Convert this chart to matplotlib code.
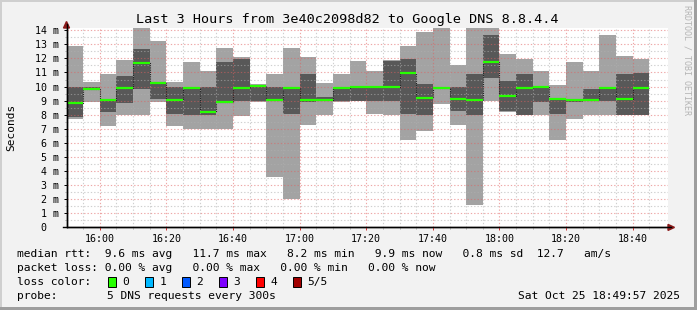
import matplotlib
matplotlib.use("Agg")
import matplotlib.pyplot as plt
import numpy as np
import pandas as pd
from matplotlib.patches import Rectangle, Polygon
from matplotlib.lines import Line2D

# 5-minute steps, 5 DNS pings each, sorted values in ms
step_start = pd.date_range("2025-10-25 15:50", periods=35, freq="5min")
rtt_min = [7.72, 8.87, 7.22, 7.95, 8.00, 8.87, 7.20, 7.00, 7.00, 7.00,
           7.90, 8.88, 3.60, 2.05, 7.27, 8.00, 8.87, 8.95, 8.05, 8.00,
           6.20, 6.87, 8.75, 7.27, 1.60, 8.97, 8.20, 7.98, 8.00, 6.20,
           7.72, 8.00, 8.00, 7.98, 7.98]
rtt_p2 = [7.85, 9.75, 8.20, 8.85, 9.85, 9.12, 8.05, 8.00, 8.00, 8.85,
          8.97, 9.00, 9.02, 8.05, 8.87, 9.00, 8.95, 9.00, 9.00, 9.00,
          8.05, 8.00, 9.80, 8.30, 8.00, 10.63, 8.26, 8.00, 8.87, 8.05,
          8.90, 8.97, 9.00, 8.00, 8.00]
rtt_median = [8.85, 9.85, 9.07, 9.87, 11.70, 10.28, 9.08, 9.87, 8.20, 8.87,
              9.87, 10.03, 9.08, 9.87, 9.08, 9.03, 9.87, 10.00, 10.00, 10.00,
              10.93, 9.20, 9.87, 9.14, 9.03, 11.72, 9.36, 9.87, 10.00, 9.10,
              9.02, 9.02, 9.87, 9.10, 9.87]
rtt_p4 = [10.00, 9.95, 9.12, 10.75, 12.67, 10.33, 10.00, 9.97, 10.00, 11.75,
          11.95, 10.08, 10.00, 9.92, 10.90, 9.28, 9.90, 10.05, 10.05, 11.80,
          11.95, 10.18, 9.90, 9.99, 10.90, 13.67, 10.40, 10.90, 10.07, 9.15,
          9.10, 9.85, 9.92, 10.90, 10.97]
rtt_max = [12.90, 10.30, 10.90, 11.90, 14.30, 13.25, 10.32, 11.75, 11.10, 12.75,
           12.10, 10.15, 10.90, 12.75, 12.10, 10.25, 10.90, 11.80, 11.10, 11.90,
           12.90, 13.90, 14.30, 11.55, 14.30, 14.30, 12.32, 11.97, 11.10, 10.10,
           11.77, 11.10, 13.67, 12.15, 11.97]

time_labels = ["16:00", "16:20", "16:40", "17:00", "17:20", "17:40",
               "18:00", "18:20", "18:40"]
y_labels = ["0  "] + [f"{v} m" for v in range(1, 15)]

loss_names = ["0", "1", "2", "3", "4", "5/5"]
loss_colors = ["#26ff00", "#00b8ff", "#0059ff", "#7e00ff", "#ff0000", "#a10000"]

W, H = 697, 310
BACK = "#f2f2f2"
LIGHT = "#a3a3a3"
DARK = "#585858"
MONO = "DejaVu Sans Mono"
plt.rcParams["font.family"] = MONO


def fx(x):
    return x / W


def fy(y):
    return 1 - y / H


t0 = pd.Timestamp("2025-10-25 15:50")
t = np.array((step_start - t0).total_seconds() / 60.0)
step = 5.0
rmin, rp2, rmed = np.array(rtt_min), np.array(rtt_p2), np.array(rtt_median)
rp4, rmax = np.array(rtt_p4), np.array(rtt_max)

fig = plt.figure(figsize=(W / 100, H / 100), dpi=100, facecolor=BACK)
ax = fig.add_axes([fx(66.5), fy(227.4), fx(668) - fx(66.5), fy(28) - fy(227.4)])
ax.set_facecolor("white")

# smoke: outer (min..max) light, inner (p2..p4) dark
ax.bar(t, rmax - rmin, bottom=rmin, width=step, align="edge", color=LIGHT,
       linewidth=0, zorder=1)
ax.bar(t, rp4 - rp2, bottom=rp2, width=step, align="edge", color=DARK,
       linewidth=0, zorder=1.1)

# median: dotted step connectors + green segments
edges = np.append(t, t[-1] + step)
ax.stairs(rmed, edges, baseline=None, color="#222222", linestyle=(0, (1, 1)),
          linewidth=0.8, zorder=3)
ax.hlines(rmed, t, t + step, color=loss_colors[0], linewidth=1.6, zorder=4)

ax.set_xlim(0, 180.6)
ax.set_ylim(0, 14.16)

ax.set_xticks(np.arange(10, 171, 20))
ax.set_xticklabels(time_labels)
ax.set_xticks(np.arange(5, 180, 5), minor=True)
ax.set_yticks(np.arange(0, 15, 1))
ax.set_yticklabels(y_labels)
ax.set_yticks(np.arange(0.5, 14.1, 1), minor=True)

ax.set_axisbelow(False)
ax.grid(which="major", color="#e06060", alpha=0.55, linestyle=(0, (1.2, 1.8)),
        linewidth=0.8)
ax.grid(which="minor", color="#b0b0b0", alpha=0.6, linestyle=(0, (1.2, 1.8)),
        linewidth=0.8)

ax.tick_params(axis="both", which="major", labelsize=7.2, color="#cc3333",
               length=2, width=0.7)
ax.tick_params(axis="y", which="major", pad=3.2, color="black", length=2.5)
ax.tick_params(axis="x", which="major", pad=3.0)
ax.tick_params(axis="both", which="minor", length=1.5, width=0.6, color="#999999")

for side in ("top", "right"):
    ax.spines[side].set_visible(False)
for side in ("left", "bottom"):
    ax.spines[side].set_color("black")
    ax.spines[side].set_linewidth(1.0)

# axis extensions and arrows
fig.add_artist(Line2D([fx(66.5), fx(66.5)], [fy(227.4), fy(24)], color="black",
                      linewidth=1.0))
fig.add_artist(Line2D([fx(63), fx(671)], [fy(227.4), fy(227.4)], color="black",
                      linewidth=1.0))
fig.add_artist(Polygon([(fx(63.5), fy(28)), (fx(69.5), fy(28)), (fx(66.5), fy(21.5))],
                       closed=True, color="#8b1a1a"))
fig.add_artist(Polygon([(fx(668), fy(224.4)), (fx(668), fy(230.4)), (fx(674.5), fy(227.4))],
                       closed=True, color="#8b1a1a"))

# frame shading like rrdtool
fig.add_artist(Rectangle((0, fy(2)), 1, fy(0) - fy(2), color="#cfcfcf", linewidth=0))
fig.add_artist(Rectangle((0, 0), fx(2), 1, color="#cfcfcf", linewidth=0))
fig.add_artist(Rectangle((0, 0), 1, fy(307) - fy(310), color="#9e9e9e", linewidth=0))
fig.add_artist(Rectangle((fx(694), 0), fx(3), 1, color="#9e9e9e", linewidth=0))

fig.text(fx(347), fy(19.3), "Last 3 Hours from 3e40c2098d82 to Google DNS 8.8.4.4",
         ha="center", va="center", fontsize=9.7)
fig.text(fx(11), fy(127), "Seconds", rotation=90, ha="center", va="center",
         fontsize=8)
fig.text(fx(687.5), fy(60), "RRDTOOL / TOBI OETIKER", rotation=270, ha="center",
         va="center", fontsize=6, color="#b5b5b5")

# legend block
fs = 8.1
x0 = 17
fig.text(fx(x0), fy(254.3),
         "median rtt:  9.6 ms avg   11.7 ms max   8.2 ms min   9.9 ms now   0.8 ms sd  12.7   am/s",
         ha="left", va="center", fontsize=fs)
fig.text(fx(x0), fy(268.3),
         "packet loss: 0.00 % avg   0.00 % max   0.00 % min   0.00 % now",
         ha="left", va="center", fontsize=fs)
fig.text(fx(x0), fy(282.3), "loss color:", ha="left", va="center", fontsize=fs)
for i, (name, col) in enumerate(zip(loss_names, loss_colors)):
    bx = 108 + 37 * i
    fig.add_artist(Rectangle((fx(bx), fy(287)), fx(8), fy(277) - fy(287),
                             facecolor=col, edgecolor="black", linewidth=0.7))
    fig.text(fx(bx + 14.5), fy(282.3), name, ha="left", va="center", fontsize=fs)
fig.text(fx(x0), fy(296.3), "probe:", ha="left", va="center", fontsize=fs)
fig.text(fx(107), fy(296.3), "5 DNS requests every 300s", ha="left", va="center",
         fontsize=fs)
fig.text(fx(680.5), fy(296.3), "Sat Oct 25 18:49:57 2025", ha="right", va="center",
         fontsize=fs)

fig.savefig("out.png", dpi=100, facecolor=BACK)
plt.close(fig)
